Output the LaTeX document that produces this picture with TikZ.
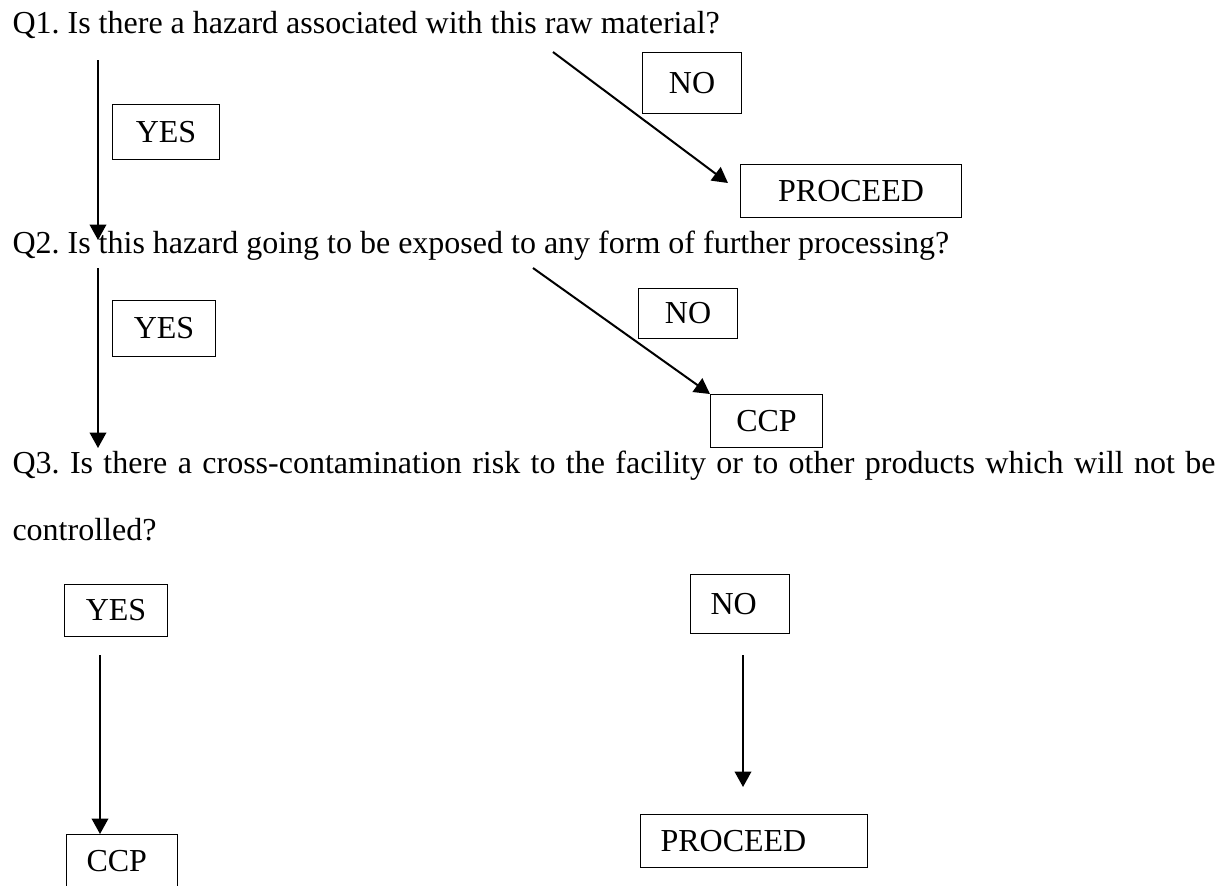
\documentclass[tikz,border=0pt]{standalone}
\usepackage{fontspec}
\setmainfont{Liberation Serif}
\usetikzlibrary{arrows.meta}
\frenchspacing
\begin{document}
\begin{tikzpicture}[x=0.375pt, y=-0.375pt,
  every node/.style={font=\fontsize{12}{14}\selectfont\frenchspacing, inner sep=0pt},
  qtext/.style={anchor=base west},
  cbox/.style n args={2}{draw, line width=0.4pt, anchor=north west, minimum width=#1*0.375pt, minimum height=#2*0.375pt, align=center},
  lbox/.style n args={2}{draw, line width=0.4pt, anchor=north west, text width=#1, inner xsep=7.5pt, minimum height=#2*0.375pt, align=left},
  conn/.style={-{Triangle[width=6.2pt, length=5.8pt]}, line width=0.75pt}
]
\path[use as bounding box] (0,0) rectangle (1228,885);
\clip (0,0) rectangle (1228,885);

% question texts
\node[qtext] (q1) at (12,33) {Q1. Is there a hazard associated with this raw material?};
\node[qtext] (q2) at (12,253) {Q2. Is this hazard going to be exposed to any form of further processing?};
\node[qtext] (q3) at (12,473) {\makebox[451.125pt][s]{Q3. Is there a cross-contamination risk to the facility or to other products which will not be}};
\node[qtext] (q3b) at (12,540) {controlled?};

% boxes
\node[cbox={107}{55}] (yes1) at (112,104) {YES};
\node[cbox={99}{61}] (no1) at (642,52) {NO};
\node[cbox={221}{53}] (proc1) at (740,164) {PROCEED};
\node[cbox={103}{56}] (yes2) at (112,300) {YES};
\node[cbox={99}{50}] (no2) at (638,288) {NO};
\node[cbox={112}{53}] (ccp2) at (710,394) {CCP};
\node[cbox={103}{52}] (yes3) at (64,584) {YES};
\node[lbox={22.125pt}{59}] (no3) at (690,574) {NO};
\node[lbox={70.125pt}{53}] (proc3) at (640,814) {PROCEED};
\node[lbox={26.625pt}{53}] (ccp3) at (66,834) {CCP};

% connector ends
\coordinate (a1s) at (98,60);
\coordinate (a1e) at (98,240);
\coordinate (n1s) at (553,52);
\coordinate (n1e) at (728,183);
\coordinate (a2s) at (98,268);
\coordinate (a2e) at (98,448);
\coordinate (n2s) at (533,268);
\coordinate (a3s) at (100,655);
\coordinate (n3s) at (743,655);
\coordinate (n3e) at (743,787);

% connectors
\draw[conn] (a1s) -- (a1e);
\draw[conn] (n1s) -- (n1e);
\draw[conn] (a2s) -- (a2e);
\draw[conn] (n2s) -- (ccp2.north west);
\draw[conn] (a3s) -- (a3s |- ccp3.north);
\draw[conn] (n3s) -- (n3e);
\end{tikzpicture}
\end{document}
